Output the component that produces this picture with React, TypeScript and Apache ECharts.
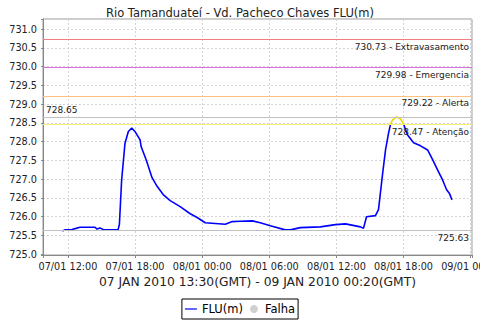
import React, { useEffect, useRef } from "react";
import * as echarts from "echarts";

// hours since 07/01 00:00 (local axis time)
const hours = [
  11.5, 11.73, 12.36, 12.72, 13.07, 14.42, 14.6, 14.87, 15.22, 16.48, 16.6, 16.8, 17.1, 17.4, 17.7, 18.0,
  18.45, 18.54, 18.99, 19.52, 19.97, 20.51, 21.14, 22.03, 22.93, 23.55, 24.27, 25.16, 26.06, 26.69, 27.4,
  28.48, 29.19, 30.09, 31.43, 31.88, 32.78, 34.57, 35.91, 36.81, 38.15, 38.42, 38.69, 39.49, 39.76, 40.12,
  40.39, 40.66, 40.84, 41.02, 41.37, 41.73, 42.0, 42.36, 42.9, 43.52, 44.15, 44.6, 45.04, 45.49, 45.85,
  46.12, 46.33,
];
const levels = [
  725.62, 725.65, 725.66, 725.69, 725.72, 725.72, 725.67, 725.7, 725.65, 725.65, 725.8, 726.98, 727.96,
  728.27, 728.36, 728.27, 728.05, 727.87, 727.52, 727.04, 726.81, 726.59, 726.43, 726.27, 726.08, 725.98,
  725.84, 725.82, 725.8, 725.87, 725.88, 725.89, 725.84, 725.76, 725.65, 725.65, 725.71, 725.73, 725.79,
  725.81, 725.73, 725.69, 726.0, 726.03, 726.19, 727.12, 727.78, 728.23, 728.47, 728.58, 728.66, 728.61,
  728.47, 728.18, 727.97, 727.89, 727.78, 727.52, 727.25, 726.98, 726.72, 726.61, 726.45,
];
const thresholdValues = [730.73, 729.98, 729.22, 728.65, 728.47, 725.63];
const thresholdNames = ["Extravasamento", "Emergencia", "Alerta", "", "Atenção", ""];
const thresholdColors = ["#f08080", "#d86ee0", "#ffc080", "#c0c0c0", "#f8f070", "#c0c0c0"];
const thresholdPositions = ["insideEndBottom", "insideEndBottom", "insideEndBottom", "insideStartTop", "insideEndBottom", "insideEndBottom"];
const attentionLevel = 728.47;

const isMult = (v: number, step: number) => Math.abs(v / step - Math.round(v / step)) < 1e-6;

const fmtX = (h: number) => {
  if (!isMult(h, 6)) return "";
  const day = 7 + Math.floor(h / 24);
  const hr = Math.round(h % 24);
  const p = (n: number) => String(n).padStart(2, "0");
  return `${p(day)}/01 ${p(hr)}:00`;
};

export default function App() {
  const ref = useRef<HTMLDivElement>(null);
  useEffect(() => {
    if (!ref.current) return;
    const chart = echarts.init(ref.current, null, { renderer: "svg" });
    const data = hours.map((h, i) => [h, levels[i]]);
    const font = "DejaVu Sans";
    chart.setOption({
      animation: false,
      backgroundColor: "#ffffff",
      textStyle: { fontFamily: font },
      title: {
        text: "Rio Tamanduateí - Vd. Pacheco Chaves FLU(m)",
        left: "center",
        top: 2,
        textStyle: { fontFamily: font, fontSize: 11.5, fontWeight: "normal", color: "#222" },
      },
      grid: {
        left: 43,
        right: 8,
        top: 19,
        bottom: 65,
        containLabel: false,
        outerBoundsMode: "none",
        show: true,
        borderColor: "#999",
        borderWidth: 1,
      },
      legend: {
        bottom: 1,
        left: "center",
        borderColor: "#000",
        borderWidth: 1,
        padding: [4, 3],
        itemGap: 7,
        itemWidth: 12,
        itemHeight: 8,
        textStyle: { fontFamily: font, fontSize: 11.5, color: "#000" },
        data: [
          { name: "FLU(m)", icon: "path://M0,0L16,0L16,1.6L0,1.6Z", itemStyle: { color: "#0000ff" } },
          { name: "Falha", icon: "circle", itemStyle: { color: "#c4c4c4" } },
        ],
      },
      visualMap: {
        type: "piecewise",
        show: false,
        dimension: 1,
        seriesIndex: 0,
        pieces: [
          { gt: attentionLevel, lte: 800, color: "#f2d400" },
          { gte: 700, lte: attentionLevel, color: "#0000ff" },
        ],
        outOfRange: { color: "#0000ff" },
      },
      xAxis: {
        type: "value",
        min: 9.77,
        max: 48.12,
        splitNumber: 6,
        minInterval: 6,
        maxInterval: 6,
        name: "07 JAN 2010 13:30(GMT) - 09 JAN 2010 00:20(GMT)",
        nameLocation: "middle",
        nameGap: 21,
        nameTextStyle: { fontFamily: font, fontSize: 12.3, color: "#222" },
        axisLine: { show: true, lineStyle: { color: "#888" } },
        axisTick: { show: true, length: 3, lineStyle: { color: "#888" } },
        axisLabel: {
          formatter: (v: number) => fmtX(v),
          fontSize: 9.7,
          color: "#222",
          margin: 6,
          hideOverlap: false,
        },
        splitLine: { show: true, lineStyle: { color: "#d4d4d4", type: [2, 2] } },
      },
      yAxis: {
        type: "value",
        min: 724.98,
        max: 731.27,
        splitNumber: 12,
        minInterval: 0.5,
        maxInterval: 0.5,
        axisLine: { show: true, lineStyle: { color: "#888" } },
        axisTick: { show: true, length: 2, lineStyle: { color: "#888" } },
        axisLabel: {
          formatter: (v: number) => (isMult(v, 0.5) ? v.toFixed(1) : ""),
          fontSize: 9.7,
          color: "#222",
          margin: 6,
        },
        splitLine: { show: true, lineStyle: { color: "#d4d4d4", type: [2, 2] } },
      },
      series: [
        {
          name: "FLU(m)",
          type: "line",
          data,
          showSymbol: false,
          symbol: "none",
          color: "#0000ff",
          lineStyle: { width: 1.6 },
          z: 3,
        },
        {
          name: "Falha",
          type: "scatter",
          data: [],
          color: "#c4c4c4",
          symbolSize: 8,
        },
        {
          name: "limites",
          type: "line",
          data: [],
          z: 2,
          markLine: {
            silent: true,
            symbol: "none",
            data: thresholdValues.map((v, i) => ({
              yAxis: v,
              lineStyle: { color: thresholdColors[i], type: "solid", width: 1.2, opacity: 1 },
              label: {
                show: true,
                position: thresholdPositions[i],
                formatter: thresholdNames[i] ? `${v.toFixed(2)} - ${thresholdNames[i]}` : v.toFixed(2),
                fontFamily: font,
                fontSize: 9,
                color: "#222",
                distance: 3,
              },
            })),
          },
        },
      ],
    });
    return () => chart.dispose();
  }, []);
  return (
    <div
      ref={ref}
      style={{ position: "fixed", left: 0, top: 0, width: 480, height: 320, background: "#fff" }}
    />
  );
}
